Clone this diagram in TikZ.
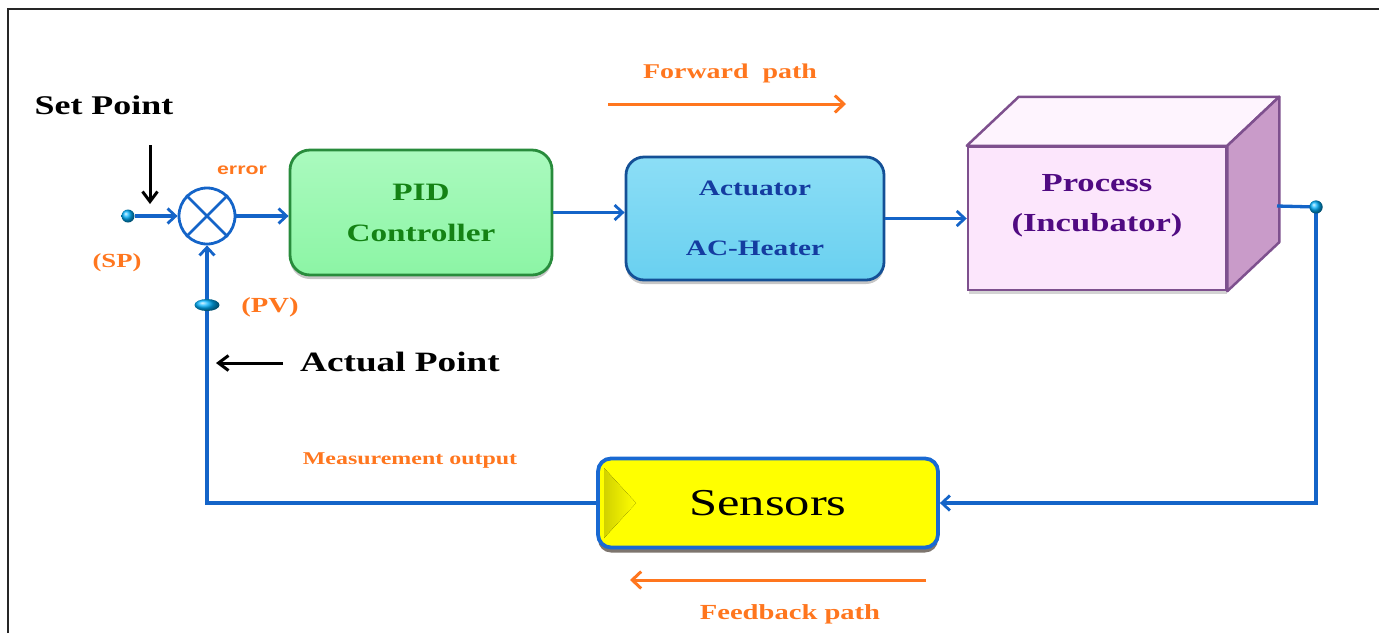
\documentclass[tikz,border=0pt]{standalone}
\usepackage{fontspec}
\setmainfont{Liberation Serif}[FakeStretch=1.33]
\newfontfamily\sansf{Liberation Sans}[FakeStretch=1.33]
\usetikzlibrary{arrows.meta,shadows,shapes.geometric}
\definecolor{sigblue}{RGB}{20,100,200}
\definecolor{orng}{RGB}{255,118,30}
\definecolor{pidfill}{RGB}{140,245,165}
\definecolor{pidtop}{RGB}{170,250,190}
\definecolor{piddraw}{RGB}{40,140,60}
\definecolor{pidtext}{RGB}{20,130,20}
\definecolor{actfill}{RGB}{105,208,240}
\definecolor{acttop}{RGB}{140,222,246}
\definecolor{actdraw}{RGB}{20,80,150}
\definecolor{acttext}{RGB}{20,60,160}
\definecolor{procfront}{RGB}{252,230,252}
\definecolor{proctop}{RGB}{254,244,254}
\definecolor{procside}{RGB}{201,155,201}
\definecolor{procdraw}{RGB}{126,80,142}
\definecolor{proctext}{RGB}{80,10,130}
\definecolor{sensdraw}{RGB}{25,105,210}
\definecolor{pureyellow}{RGB}{255,255,0}
\newcommand{\fsz}[1]{\fontsize{#1}{#1}\selectfont}
\tikzset{
  barb/.style={-{Straight Barb[length=8pt,width=15pt,line width=2.8pt]}},
  sig/.style={draw=sigblue,line width=3.3pt},
  sigarrow/.style={sig,barb},
  blkarrow/.style={draw=black,line width=3pt,-{Straight Barb[length=10pt,width=15pt]}},
  orarrow/.style={draw=orng,line width=3pt,-{Straight Barb[length=9pt,width=17pt]}},
  otext/.style={text=orng,font=\bfseries\fsz{21},inner sep=0pt},
  btext/.style={text=black,font=\bfseries\fsz{28},inner sep=0pt},
  dot/.style={circle,minimum size=13pt,inner sep=0pt,ball color=cyan!70!blue},
  blockbox/.style={rounded corners=20pt,line width=2.8pt,align=center,inner sep=0pt,
    drop shadow={shadow xshift=0pt,shadow yshift=-4pt,opacity=0.45}},
}
\begin{document}
\begin{tikzpicture}[x=1pt,y=-1pt]
\useasboundingbox (0,0) rectangle (1379,633);
% frame
\coordinate (fbl) at (8,633);
\coordinate (ftl) at (8,9);
\coordinate (ftr) at (1379,9);
\draw[line width=2.4pt,black!85] (fbl) -- (ftl) -- (ftr);

% blocks
\node[blockbox,draw=piddraw,top color=pidtop,bottom color=pidfill,
  minimum width=262pt,minimum height=125pt,text=pidtext,
  font=\bfseries\fontsize{25}{41}\selectfont] (pid) at (421,212.5) {PID\\Controller};
\node[blockbox,rounded corners=18pt,draw=actdraw,top color=acttop,bottom color=actfill,
  minimum width=258pt,minimum height=123pt,text=acttext,
  font=\bfseries\fontsize{22}{60}\selectfont] (act) at (755,218.5) {Actuator\\AC-Heater};

% process cuboid
\node[draw=procdraw,fill=procfront,line width=2.5pt,minimum width=258pt,minimum height=143pt,
  inner sep=0pt,drop shadow={shadow xshift=1pt,shadow yshift=-4pt,opacity=0.35}] (proc) at (1097,218.5) {};
\coordinate (ptl) at ([shift={(52,-49)}]proc.north west);
\coordinate (ptr) at ([shift={(52,-49)}]proc.north east);
\coordinate (pbr) at ([shift={(52,-49)}]proc.south east);
\draw[procdraw,fill=proctop,line width=2.5pt,line join=round] (proc.north west) -- (ptl) -- (ptr) -- (proc.north east) -- cycle;
\draw[procdraw,fill=procside,line width=2.5pt,line join=round] (proc.north east) -- (ptr) -- (pbr) -- (proc.south east) -- cycle;
\node[text=proctext,font=\bfseries\fontsize{26}{40}\selectfont,align=center,inner sep=0pt] (proctxt) at (1097,206) {Process\\(Incubator)};

% sensors
\node[draw=sensdraw,fill=pureyellow,line width=3.8pt,rounded corners=13pt,
  minimum width=340pt,minimum height=89pt,inner sep=0pt,
  drop shadow={shadow xshift=0pt,shadow yshift=-5pt,opacity=0.6,fill=black!80!brown}] (sens) at (768,503) {};
\coordinate (stA) at (604,468);
\coordinate (stB) at (636,503);
\coordinate (stC) at (604,538);
\fill[left color=pureyellow!82!black,right color=pureyellow] (stA) -- (stB) -- (stC) -- cycle;
\node[font=\fsz{38},text=black,inner sep=0pt] (senstxt) at (sens.center) {Sensors};

% summing junction
\node[circle,draw=sigblue,line width=2.8pt,minimum size=56pt,inner sep=0pt] (sum) at (207,216) {};
\draw[sigblue,line width=2.8pt] (sum.45) -- (sum.225) (sum.135) -- (sum.-45);

% signal lines
\node[dot] (sp) at (128,216) {};
\draw[sigarrow] (sp) -- (sum.west);
\draw[sigarrow] (sum.east) -- (sum.east -| pid.west);
\draw[sigarrow] (pid.east) -- (pid.east -| act.west);
\draw[sigarrow] (act.east) -- (act.east -| proc.west);
\coordinate (pout) at (1277,206);
\node[dot] (out) at (1316,207) {};
\draw[sig] (pout) -- (out.center);
\draw[sigarrow] (out.center) |- (sens.east);
\draw[sigarrow] (sens.west) -| (sum.south);
\node[dot] at (out) {};
\node[ellipse,minimum width=25pt,minimum height=12pt,inner sep=0pt,ball color=cyan!70!blue] (pv) at (207,305) {};

% labels
\node[btext,font=\bfseries\fsz{27}] (setpt) at (104,105) {Set Point};
\coordinate (spa) at (150,145);
\coordinate (spb) at (150,204);
\draw[blkarrow] (spa) -- (spb);
\node[text=orng,font=\sansf\bfseries\fsz{16},inner sep=0pt] (err) at (242,170) {error};
\node[otext,font=\bfseries\fsz{20}] (splbl) at (117,263) {(SP)};
\node[otext,font=\bfseries\fsz{21.5}] (pvlbl) at (270,307) {(PV)};
\node[btext] (actual) at (400,362) {Actual Point};
\coordinate (apa) at (283,363);
\coordinate (apb) at (216,363);
\draw[blkarrow] (apa) -- (apb);
\node[otext,font=\bfseries\fsz{18}] (meas) at (410,461) {Measurement output};
\node[otext] (fwd) at (730,73) {Forward\ \ path};
\coordinate (fwa) at (608,104);
\coordinate (fwb) at (846,104);
\draw[orarrow] (fwa) -- (fwb);
\coordinate (fba) at (926,580);
\coordinate (fbb) at (630,580);
\draw[orarrow] (fba) -- (fbb);
\node[otext,font=\bfseries\fsz{21.5}] (fbk) at (790,614) {Feedback path};
\end{tikzpicture}
\end{document}
